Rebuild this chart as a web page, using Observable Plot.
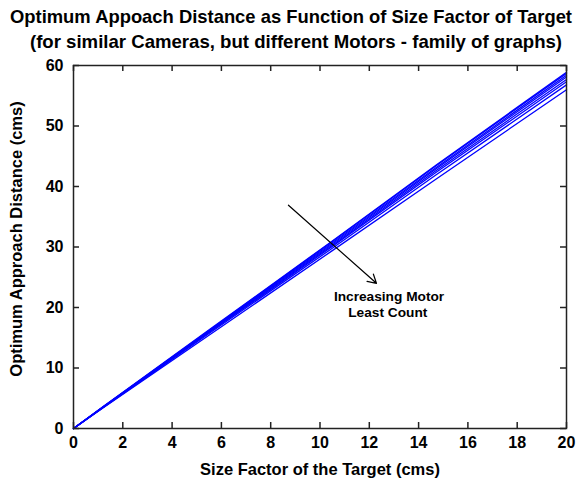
<!DOCTYPE html>
<html>
<head>
<meta charset="utf-8">
<script src="https://cdn.jsdelivr.net/npm/d3@7"></script>
<script src="https://cdn.jsdelivr.net/npm/@observablehq/plot@0.6"></script>
<style>
  html, body { margin: 0; padding: 0; background: #fff; }
  #chart { width: 578px; height: 479px; overflow: hidden; }
</style>
</head>
<body>
<div id="chart"></div>
<script>
// Data
const sizeFactor = [0, 1.15, 5.6, 10.5, 14.7, 20];
const series1 = [0, 3.45, 16.6, 31.0, 43.5, 58.9];
const series2 = [0, 3.43, 16.5, 30.9, 43.4, 58.7];
const series3 = [0, 3.41, 16.45, 30.7, 43.1, 58.4];
const series4 = [0, 3.39, 16.35, 30.5, 42.9, 58.1];
const series5 = [0, 3.37, 16.25, 30.3, 42.6, 57.7];
const series6 = [0, 3.35, 16.15, 30.1, 42.3, 57.3];
const series7 = [0, 3.32, 16.0, 29.8, 41.9, 56.8];
const series8 = [0, 3.28, 15.7, 29.4, 41.2, 56.0];
const allSeries = [series1, series2, series3, series4, series5, series6, series7, series8];
const xTicks = [0, 2, 4, 6, 8, 10, 12, 14, 16, 18, 20];
const yTicks = [0, 10, 20, 30, 40, 50, 60];
const titleLine1 = "Optimum Appoach Distance as Function of Size Factor of Target";
const titleLine2 = "(for similar Cameras, but different Motors - family of graphs)";
const xLabel = "Size Factor of the Target (cms)";
const yLabel = "Optimum Approach Distance (cms)";
const arrowFrom = {x: 8.72, y: 36.9};
const arrowTo = {x: 12.29, y: 24.0};
const annotation = [{x: 12.8, y: 21.8, text: "Increasing Motor"}, {x: 12.75, y: 19.1, text: "Least Count"}];

const rows = [];
allSeries.forEach((s, i) => s.forEach((v, j) => rows.push({series: i, x: sizeFactor[j], y: v})));

const W = 578, H = 479;
const mL = 73, mR = 12, mT = 65, mB = 51;
const frameW = W - mL - mR, frameH = H - mT - mB;
const tickLen = 6;

const plot = Plot.plot({
  width: W, height: H,
  marginLeft: mL, marginRight: mR, marginTop: mT, marginBottom: mB,
  style: {fontFamily: "'Liberation Sans', Arial, sans-serif", fontSize: "16px", fontWeight: "bold", color: "#000", background: "#fff"},
  x: {domain: [0, 20]},
  y: {domain: [0, 60]},
  marks: [
    Plot.line(rows, {x: "x", y: "y", z: "series", stroke: "#0000ff", strokeWidth: 1.3}),
    Plot.arrow([0], {x1: () => arrowFrom.x, y1: () => arrowFrom.y, x2: () => arrowTo.x, y2: () => arrowTo.y, stroke: "#000", strokeWidth: 1.2, headLength: 12, bend: 0}),
    Plot.text(annotation, {x: "x", y: "y", text: "text", fontSize: 13.7, fontWeight: "bold", fill: "#000"}),
    Plot.frame({stroke: "#222", strokeWidth: 1.5}),
    Plot.ruleX(xTicks, {x: d => d, insetTop: frameH - tickLen, stroke: "#222", strokeWidth: 1.5}),
    Plot.ruleX(xTicks, {x: d => d, insetBottom: frameH - tickLen, stroke: "#222", strokeWidth: 1.5}),
    Plot.ruleY(yTicks, {y: d => d, insetRight: frameW - tickLen, stroke: "#222", strokeWidth: 1.5}),
    Plot.ruleY(yTicks, {y: d => d, insetLeft: frameW - tickLen, stroke: "#222", strokeWidth: 1.5}),
    Plot.axisX(xTicks, {tickSize: 0, tickPadding: 8, label: null, fontSize: 16, fontWeight: "bold"}),
    Plot.axisY(yTicks, {tickSize: 0, tickPadding: 10, label: null, fontSize: 16, fontWeight: "bold"})
  ]
});

const svg = d3.select(plot);
const addText = (txt, x, y, size, rotate) => {
  const t = svg.append("text")
    .attr("x", x).attr("y", y)
    .attr("text-anchor", "middle")
    .attr("dominant-baseline", "middle")
    .style("font-family", "'Liberation Sans', Arial, sans-serif")
    .style("font-weight", "bold")
    .style("font-size", size + "px")
    .attr("fill", "#000")
    .text(txt);
  if (rotate) t.attr("transform", `rotate(-90, ${x}, ${y})`);
};
addText(titleLine1, 291, 18, 18.4);
addText(titleLine2, 296, 43, 18.6);
addText(xLabel, 320, 471, 16.5);
addText(yLabel, 18, 239, 16.5, true);

document.getElementById("chart").appendChild(plot);
</script>
</body>
</html>
